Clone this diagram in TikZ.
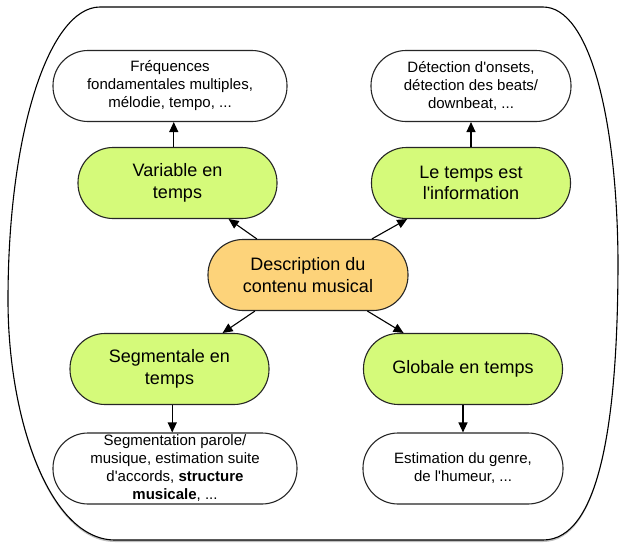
\documentclass[tikz,border=0pt]{standalone}
\usepackage{fontspec}
\setmainfont{Liberation Sans}
\usepackage{tikz}
\usetikzlibrary{arrows.meta,calc,shadows}
\definecolor{vertclair}{RGB}{213,250,122}
\definecolor{orangeclair}{RGB}{253,211,122}

\begin{document}
\begin{tikzpicture}[x=1pt,y=-1pt,
    bloc/.style={draw=black!85,line width=1.1pt,rectangle,rounded corners=35pt,minimum height=71pt,inner sep=0pt,align=center},
    grand/.style={bloc,font=\fontsize{18}{21.5}\selectfont,minimum width=199pt},
    petit/.style={bloc,fill=white,font=\fontsize{15}{18}\selectfont},
    fl/.style={-{Triangle[length=10pt,width=9pt]},line width=1.1pt,black}]
  \useasboundingbox(0,0)rectangle(619,544);
  \draw[line width=1.1pt,fill=white,drop shadow={shadow xshift=0pt,shadow yshift=-2pt,opacity=.5}]
    (100,7)--(543,7)..controls(590,7)and(617,120)..(618,260)
    ..controls(618,420)and(600,540)..(543,540)--(115,540)
    ..controls(50,540)and(8,420)..(8,300)..controls(8,130)and(50,7)..(100,7)--cycle;
  \node[grand,fill=orangeclair,minimum width=200pt](desc)at(308,275){Description du\\contenu musical};
  \node[grand,fill=vertclair](var)at(177.5,183){Variable en\\temps};
  \node[grand,fill=vertclair](info)at(471,183){Le temps est\\l\textquotesingle{}information};
  \node[grand,fill=vertclair](seg)at(169.5,369){Segmentale en\\temps};
  \node[grand,fill=vertclair](glob)at(463,369){Globale en temps};
  \node[petit,minimum width=234pt](ex1)at(170,86){Fréquences\\fondamentales multiples,\\mélodie, tempo, ...};
  \node[petit,minimum width=200pt](ex2)at(471,86){Détection d\textquotesingle{}onsets,\\détection des beats/\\downbeat, ...};
  \node[petit,minimum width=244pt](ex3)at(175,468.5){Segmentation parole/\\musique, estimation suite\\d\textquotesingle{}accords, \textbf{structure}\\\textbf{musicale}, ...};
  \node[petit,minimum width=200pt](ex4)at(463,468.5){Estimation du genre,\\de l\textquotesingle{}humeur, ...};
  \foreach \g in {var,info,seg,glob} \draw[fl](desc)--(\g);
  \foreach \g/\e in {var/ex1,info/ex2}{
    \path($(\g.north)!.5!(\e.south)$)coordinate(m);
    \draw[fl](m|-\g.north)--(m|-\e.south);}
  \foreach \g/\e in {seg/ex3,glob/ex4}{
    \path($(\g.south)!.5!(\e.north)$)coordinate(m);
    \draw[fl](m|-\g.south)--(m|-\e.north);}
\end{tikzpicture}
\end{document}
